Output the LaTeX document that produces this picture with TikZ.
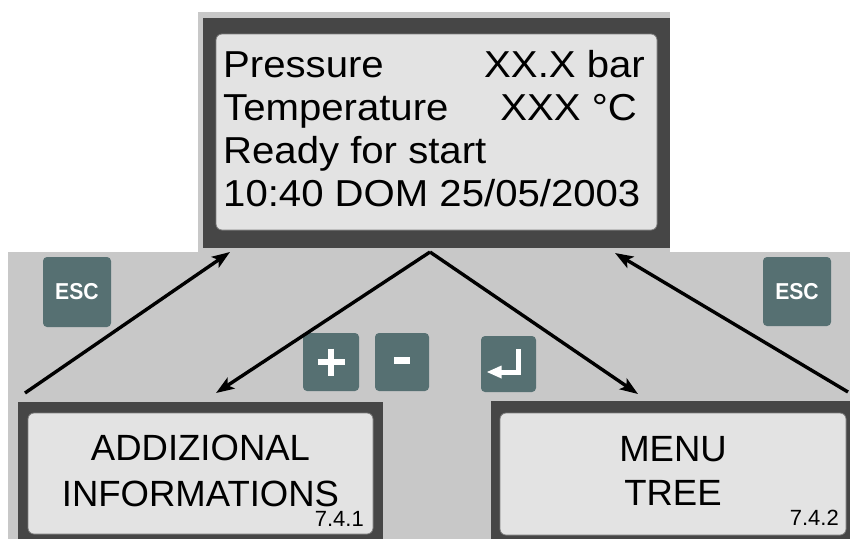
\documentclass[tikz,border=0pt]{standalone}
\usepackage{fontspec}
\setmainfont{Liberation Sans}
\newfontfamily\lcdfont[FakeStretch=1.07]{Liberation Sans}
\newfontfamily\keyfont[FakeStretch=0.92]{Liberation Sans}
\usetikzlibrary{arrows.meta,calc}
\definecolor{bggray}{RGB}{200,200,200}
\definecolor{framegray}{RGB}{70,70,70}
\definecolor{lcdface}{RGB}{227,227,227}
\definecolor{lcdedge}{RGB}{125,125,125}
\definecolor{keyteal}{RGB}{86,112,114}

\begin{document}
\begin{tikzpicture}[x=1pt,y=-1pt,
  boxbase/.style={anchor=north west, inner sep=0pt, outer sep=0pt},
  frame/.style={boxbase, fill=framegray},
  lcd/.style={boxbase, fill=lcdface, draw=lcdedge, line width=0.8pt, rounded corners=6pt},
  key/.style={boxbase, fill=keyteal, rounded corners=4pt, text=white,
    font=\keyfont\bfseries\fontsize{23}{23}\selectfont},
  lcdtext/.style={inner sep=0pt, font=\lcdfont\fontsize{37.5}{43}\selectfont},
  boxtext/.style={inner sep=0pt, anchor=base, font=\fontsize{36.5}{46}\selectfont},
  secnum/.style={inner sep=0pt, anchor=base east, font=\fontsize{22}{22}\selectfont},
  keymark/.style={draw=white, line width=6pt},
  link/.style={draw=black, line width=3.4pt, -{Stealth[length=18pt,width=13pt,inset=4pt]}}
]
\useasboundingbox (0,0) rectangle (850,539);

% panel backgrounds
\fill[bggray] (198,12) rectangle (670,252);
\fill[bggray] (8,252) rectangle (850,539);

% main display
\node[frame, minimum width=467pt, minimum height=230pt] (main) at (203,18) {};
\node[lcd, minimum width=441pt, minimum height=196pt] (mainlcd) at (216,34) {};
\node[lcdtext, anchor=base west] (l1a) at (223,77) {Pressure};
\node[lcdtext, anchor=base east] (l1b) at (645,77) {XX.X bar};
\node[lcdtext, anchor=base west] (l2a) at (223,120) {Temperature};
\node[lcdtext, anchor=base east] (l2b) at (637,120) {XXX °C};
\node[lcdtext, anchor=base west] (l3) at (223,163) {Ready for start};
\node[lcdtext, anchor=base west] (l4) at (223,206) {10:40 DOM 25/05/2003};

% additional information screen
\node[frame, minimum width=365pt, minimum height=137pt] (info) at (18,402) {};
\node[lcd, minimum width=345pt, minimum height=121pt] (infolcd) at (28,413) {};
\node[boxtext] (infot1) at (200.5,460) {ADDIZIONAL};
\node[boxtext] (infot2) at (200.5,506) {INFORMATIONS};
\node[secnum] (infonum) at (364,526) {7.4.1};

% menu tree screen
\node[frame, minimum width=359pt, minimum height=138pt] (menu) at (491,401) {};
\node[lcd, minimum width=346pt, minimum height=122pt] (menulcd) at (500,413) {};
\node[boxtext] (menut1) at (673,461) {MENU};
\node[boxtext] (menut2) at (673,505) {TREE};
\node[secnum] (menunum) at (839,525) {7.4.2};

% keys
\node[key, minimum width=68pt, minimum height=70pt] (escL) at (43,257) {ESC};
\node[key, minimum width=68pt, minimum height=69pt] (escR) at (763,257) {ESC};
\node[key, minimum width=56pt, minimum height=58pt] (plus) at (303,333) {};
\node[key, minimum width=54pt, minimum height=58pt] (minus) at (375,333) {};
\node[key, minimum width=55pt, minimum height=56pt] (enter) at (481,336) {};

% key symbols
\draw[keymark] ($(plus.center)+(-13.5,0)$) -- ($(plus.center)+(13.5,0)$);
\draw[keymark] ($(plus.center)+(0,-13.5)$) -- ($(plus.center)+(0,13.5)$);
\draw[keymark, line width=7pt] ($(minus.center)+(-8,-2)$) -- ($(minus.center)+(8,-2)$);
\draw[draw=white, line width=5pt]
  ($(enter.center)+(9.5,-15)$) -- ($(enter.center)+(9.5,8)$) -- ($(enter.center)+(-9,8)$);
\fill[white] ($(enter.center)+(-21.5,8)$) -- ($(enter.center)+(-7,1.5)$) -- ($(enter.center)+(-7,14.5)$) -- cycle;

% navigation arrows
\coordinate (escLfrom) at (25,393);
\coordinate (escLto) at (230,252);
\coordinate (mainout) at (430,252);
\coordinate (infoin) at (216,393);
\coordinate (menuin) at (638,394);
\coordinate (escRfrom) at (848,392);
\coordinate (escRto) at (615,253);

\draw[link] (escLfrom) -- (escLto);
\draw[link] (mainout) -- (infoin);
\draw[link] (mainout) -- (menuin);
\draw[link] (escRfrom) -- (escRto);
\end{tikzpicture}
\end{document}
